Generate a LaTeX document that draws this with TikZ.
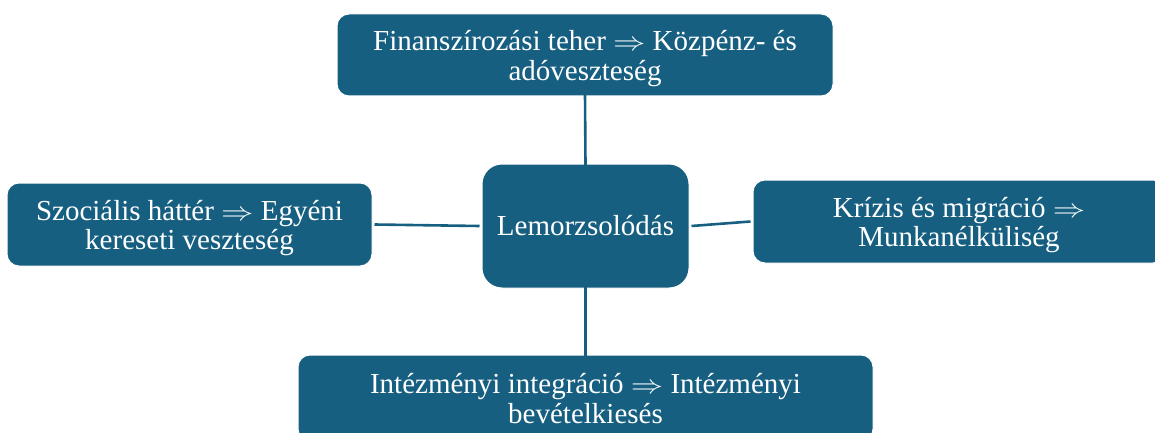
\documentclass[tikz,border=0pt]{standalone}
\usepackage{fontspec}
\setmainfont{Liberation Serif}
\definecolor{boxblue}{RGB}{23,95,129}
\newcommand{\implarrow}{\scalebox{1.3}[1.05]{$\Rightarrow$}}
\newcommand{\twolines}[2]{\raisebox{-4.5pt}[\height][\depth]{\begin{tabular}{@{}c@{}}#1\\#2\end{tabular}}}
\begin{document}
\begin{tikzpicture}[x=1pt,y=-1pt,
  box/.style={rectangle, rounded corners=12pt, fill=boxblue, draw=white, line width=1pt,
    text=white, align=center, inner sep=0pt, font=\fontsize{29}{29.5}\selectfont},
  link/.style={draw=boxblue, line width=2.6pt}]
\useasboundingbox (0,0) rectangle (1155,433);
\node[box, minimum width=496pt, minimum height=82pt] (top) at (585,55)
  {\twolines{Finanszírozási teher \implarrow{} Közpénz- és}{adóveszteség}};
\node[box, rounded corners=20pt, minimum width=207pt, minimum height=124pt] (mid) at (585.5,226)
  {Lemorzsolódás};
\node[box, minimum width=365pt, minimum height=83pt] (left) at (189.5,224.5)
  {\twolines{Szociális háttér \implarrow{} Egyéni}{kereseti veszteség}};
\node[box, minimum width=412pt, minimum height=83pt] (right) at (959,221.5)
  {\twolines{Krízis és migráció \implarrow}{Munkanélküliség}};
\node[box, minimum width=575pt, minimum height=86pt] (bot) at (585.5,398)
  {\twolines{Intézményi integráció \implarrow{} Intézményi}{bevételkiesés}};
\draw[link] ([yshift=2pt]top.south) -- ([yshift=-2pt]mid.north);
\draw[link] ([yshift=2pt]mid.south) -- ([yshift=-2pt]bot.north);
\draw[link] ([xshift=2pt]left.east) -- ([xshift=-2pt]mid.west);
\draw[link] ([xshift=2pt]mid.east) -- ([xshift=-2pt]right.west);
\end{tikzpicture}
\end{document}
